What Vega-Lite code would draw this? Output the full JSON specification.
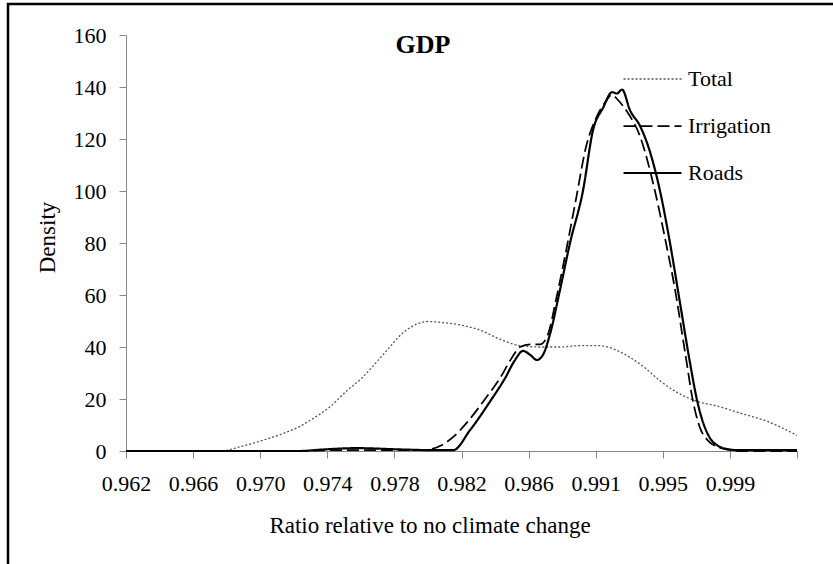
{
  "$schema": "https://vega.github.io/schema/vega-lite/v6.json",
  "width": 671,
  "height": 416,
  "autosize": "none",
  "padding": {"left": 126, "top": 35, "right": 36, "bottom": 113},
  "background": "white",
  "config": {
    "font": "Liberation Serif",
    "view": {"stroke": null},
    "axis": {"grid": false, "domainColor": "#868686", "tickColor": "#868686", "tickSize": 7, "labelColor": "black", "labelFont": "Liberation Serif", "labelFontSize": 22, "titleFont": "Liberation Serif", "titleFontSize": 23, "titleFontWeight": "normal", "titleColor": "black"},
    "legend": {"symbolType": "stroke", "symbolSize": 3364, "clipHeight": 25, "rowPadding": 22, "labelFont": "Liberation Serif", "labelFontSize": 22, "labelColor": "black", "labelOffset": 5, "padding": 0, "labelLimit": 300}
  },
  "title": {"text": "GDP", "frame": "group", "anchor": "middle", "dx": -38.5, "offset": 0, "dy": 76, "baseline": "alphabetic", "fontSize": 26, "fontWeight": "bold", "font": "Liberation Serif", "color": "black"},
  "resolve": {"axis": {"x": "independent", "y": "independent"}},
  "data": {"values": [
    {"series": "Total", "ratio": 0.962, "density": 0},
    {"series": "Total", "ratio": 0.96652, "density": 0},
    {"series": "Total", "ratio": 0.96774, "density": 0},
    {"series": "Total", "ratio": 0.96897, "density": 1.6},
    {"series": "Total", "ratio": 0.97019, "density": 3.8},
    {"series": "Total", "ratio": 0.97141, "density": 6.3},
    {"series": "Total", "ratio": 0.97263, "density": 9.5},
    {"series": "Total", "ratio": 0.97343, "density": 12.5},
    {"series": "Total", "ratio": 0.97447, "density": 17},
    {"series": "Total", "ratio": 0.97538, "density": 22.5},
    {"series": "Total", "ratio": 0.97648, "density": 28.5},
    {"series": "Total", "ratio": 0.97721, "density": 33.5},
    {"series": "Total", "ratio": 0.97795, "density": 38.8},
    {"series": "Total", "ratio": 0.97893, "density": 45.5},
    {"series": "Total", "ratio": 0.97966, "density": 48.5},
    {"series": "Total", "ratio": 0.98045, "density": 49.8},
    {"series": "Total", "ratio": 0.98119, "density": 49.5},
    {"series": "Total", "ratio": 0.98241, "density": 48.5},
    {"series": "Total", "ratio": 0.98363, "density": 46.5},
    {"series": "Total", "ratio": 0.98485, "density": 43},
    {"series": "Total", "ratio": 0.98607, "density": 40.5},
    {"series": "Total", "ratio": 0.9873, "density": 40},
    {"series": "Total", "ratio": 0.98852, "density": 40},
    {"series": "Total", "ratio": 0.98974, "density": 40.5},
    {"series": "Total", "ratio": 0.99096, "density": 40.5},
    {"series": "Total", "ratio": 0.99188, "density": 39},
    {"series": "Total", "ratio": 0.9928, "density": 36},
    {"series": "Total", "ratio": 0.99371, "density": 32},
    {"series": "Total", "ratio": 0.99463, "density": 27},
    {"series": "Total", "ratio": 0.99555, "density": 23},
    {"series": "Total", "ratio": 0.99665, "density": 19.6},
    {"series": "Total", "ratio": 0.99829, "density": 17},
    {"series": "Total", "ratio": 0.99952, "density": 14.6},
    {"series": "Total", "ratio": 1.00135, "density": 11},
    {"series": "Total", "ratio": 1.003, "density": 6},
    {"series": "Irrigation", "ratio": 0.962, "density": 0},
    {"series": "Irrigation", "ratio": 0.97263, "density": 0},
    {"series": "Irrigation", "ratio": 0.97447, "density": 0.3},
    {"series": "Irrigation", "ratio": 0.97996, "density": 0.3},
    {"series": "Irrigation", "ratio": 0.9807, "density": 0.8},
    {"series": "Irrigation", "ratio": 0.98131, "density": 2.3},
    {"series": "Irrigation", "ratio": 0.9821, "density": 6},
    {"series": "Irrigation", "ratio": 0.98284, "density": 11},
    {"series": "Irrigation", "ratio": 0.98394, "density": 20},
    {"series": "Irrigation", "ratio": 0.98485, "density": 28},
    {"series": "Irrigation", "ratio": 0.98559, "density": 36},
    {"series": "Irrigation", "ratio": 0.98607, "density": 40},
    {"series": "Irrigation", "ratio": 0.98669, "density": 41},
    {"series": "Irrigation", "ratio": 0.9873, "density": 41},
    {"series": "Irrigation", "ratio": 0.98779, "density": 45},
    {"series": "Irrigation", "ratio": 0.98827, "density": 58},
    {"series": "Irrigation", "ratio": 0.98889, "density": 77},
    {"series": "Irrigation", "ratio": 0.9895, "density": 97},
    {"series": "Irrigation", "ratio": 0.99011, "density": 117},
    {"series": "Irrigation", "ratio": 0.99072, "density": 128},
    {"series": "Irrigation", "ratio": 0.99127, "density": 134},
    {"series": "Irrigation", "ratio": 0.9917, "density": 137},
    {"series": "Irrigation", "ratio": 0.99206, "density": 135},
    {"series": "Irrigation", "ratio": 0.99267, "density": 130},
    {"series": "Irrigation", "ratio": 0.99341, "density": 121},
    {"series": "Irrigation", "ratio": 0.99432, "density": 100},
    {"series": "Irrigation", "ratio": 0.99493, "density": 82},
    {"series": "Irrigation", "ratio": 0.99555, "density": 62},
    {"series": "Irrigation", "ratio": 0.99616, "density": 38},
    {"series": "Irrigation", "ratio": 0.99665, "density": 19},
    {"series": "Irrigation", "ratio": 0.99707, "density": 9},
    {"series": "Irrigation", "ratio": 0.99756, "density": 4},
    {"series": "Irrigation", "ratio": 0.99817, "density": 1.5},
    {"series": "Irrigation", "ratio": 0.99878, "density": 0.5},
    {"series": "Irrigation", "ratio": 0.99952, "density": 0},
    {"series": "Irrigation", "ratio": 1.003, "density": 0},
    {"series": "Roads", "ratio": 0.962, "density": 0},
    {"series": "Roads", "ratio": 0.97263, "density": 0},
    {"series": "Roads", "ratio": 0.97385, "density": 0.5},
    {"series": "Roads", "ratio": 0.97611, "density": 1.1},
    {"series": "Roads", "ratio": 0.97874, "density": 0.6},
    {"series": "Roads", "ratio": 0.981, "density": 0.3},
    {"series": "Roads", "ratio": 0.98198, "density": 0.3},
    {"series": "Roads", "ratio": 0.98302, "density": 8},
    {"series": "Roads", "ratio": 0.98424, "density": 19},
    {"series": "Roads", "ratio": 0.98516, "density": 28},
    {"series": "Roads", "ratio": 0.98577, "density": 35},
    {"series": "Roads", "ratio": 0.98626, "density": 38.5},
    {"series": "Roads", "ratio": 0.98669, "density": 37},
    {"series": "Roads", "ratio": 0.98711, "density": 35},
    {"series": "Roads", "ratio": 0.98748, "density": 37},
    {"series": "Roads", "ratio": 0.98791, "density": 45},
    {"series": "Roads", "ratio": 0.98852, "density": 62},
    {"series": "Roads", "ratio": 0.98913, "density": 80},
    {"series": "Roads", "ratio": 0.98992, "density": 100},
    {"series": "Roads", "ratio": 0.99054, "density": 123.5},
    {"series": "Roads", "ratio": 0.99115, "density": 132},
    {"series": "Roads", "ratio": 0.9917, "density": 138},
    {"series": "Roads", "ratio": 0.992, "density": 137.5},
    {"series": "Roads", "ratio": 0.99231, "density": 139},
    {"series": "Roads", "ratio": 0.9928, "density": 131},
    {"series": "Roads", "ratio": 0.99341, "density": 125},
    {"series": "Roads", "ratio": 0.99402, "density": 115},
    {"series": "Roads", "ratio": 0.99463, "density": 100},
    {"series": "Roads", "ratio": 0.99524, "density": 80},
    {"series": "Roads", "ratio": 0.99585, "density": 57},
    {"series": "Roads", "ratio": 0.99646, "density": 34},
    {"series": "Roads", "ratio": 0.99689, "density": 19.6},
    {"series": "Roads", "ratio": 0.99726, "density": 11},
    {"series": "Roads", "ratio": 0.99768, "density": 5},
    {"series": "Roads", "ratio": 0.99817, "density": 2},
    {"series": "Roads", "ratio": 0.99878, "density": 0.7},
    {"series": "Roads", "ratio": 0.99952, "density": 0.3},
    {"series": "Roads", "ratio": 1.003, "density": 0.3}
  ]},
  "layer": [
    {
      "mark": {"type": "line", "interpolate": "monotone"},
      "encoding": {
        "x": {"field": "ratio", "type": "quantitative",
          "scale": {"domain": [0.962, 1.003], "nice": false, "zero": false},
          "axis": {"values": [0.962, 0.9661, 0.9702, 0.9743, 0.9784, 0.9825, 0.9866, 0.9907, 0.9948, 0.9989, 1.003],
            "labelExpr": "['0.962','0.966','0.970','0.974','0.978','0.982','0.986','0.991','0.995','0.999',''][round((datum.value-0.962)/0.0041)]",
            "labelBaseline": "alphabetic", "labelPadding": 32, "labelFlush": false, "labelOverlap": false,
            "title": "Ratio relative to no climate change", "titleX": 303.5, "titleY": 81, "titleBaseline": "alphabetic"}},
        "y": {"field": "density", "type": "quantitative",
          "scale": {"domain": [0, 160], "nice": false},
          "axis": {"values": [0, 20, 40, 60, 80, 100, 120, 140, 160], "labelPadding": 13,
            "title": "Density", "titleX": -72, "titleY": 202, "titleBaseline": "alphabetic", "titleAngle": 270}},
        "strokeDash": {"field": "series", "type": "nominal",
          "scale": {"domain": ["Total", "Irrigation", "Roads"], "range": [[2, 2], [12, 5], [1, 0]]},
          "legend": {"title": null, "orient": "none", "legendX": 496, "legendY": 31.5}},
        "color": {"field": "series", "type": "nominal",
          "scale": {"domain": ["Total", "Irrigation", "Roads"], "range": ["#555555", "#000000", "#000000"]},
          "legend": {"title": null, "orient": "none", "legendX": 496, "legendY": 31.5}},
        "strokeWidth": {"field": "series", "type": "nominal",
          "scale": {"domain": ["Total", "Irrigation", "Roads"], "range": [1.3, 2.2, 2.2]},
          "legend": {"title": null, "orient": "none", "legendX": 496, "legendY": 31.5}}
      }
    },
    {
      "data": {"values": [{}]},
      "mark": {"type": "rect", "filled": false, "stroke": "black", "strokeWidth": 2.5, "clip": false},
      "encoding": {
        "x": {"datum": 0.95479, "type": "quantitative", "axis": null},
        "x2": {"datum": 1.1},
        "y": {"datum": 171.9, "type": "quantitative", "axis": null},
        "y2": {"datum": -100}
      }
    }
  ]
}
